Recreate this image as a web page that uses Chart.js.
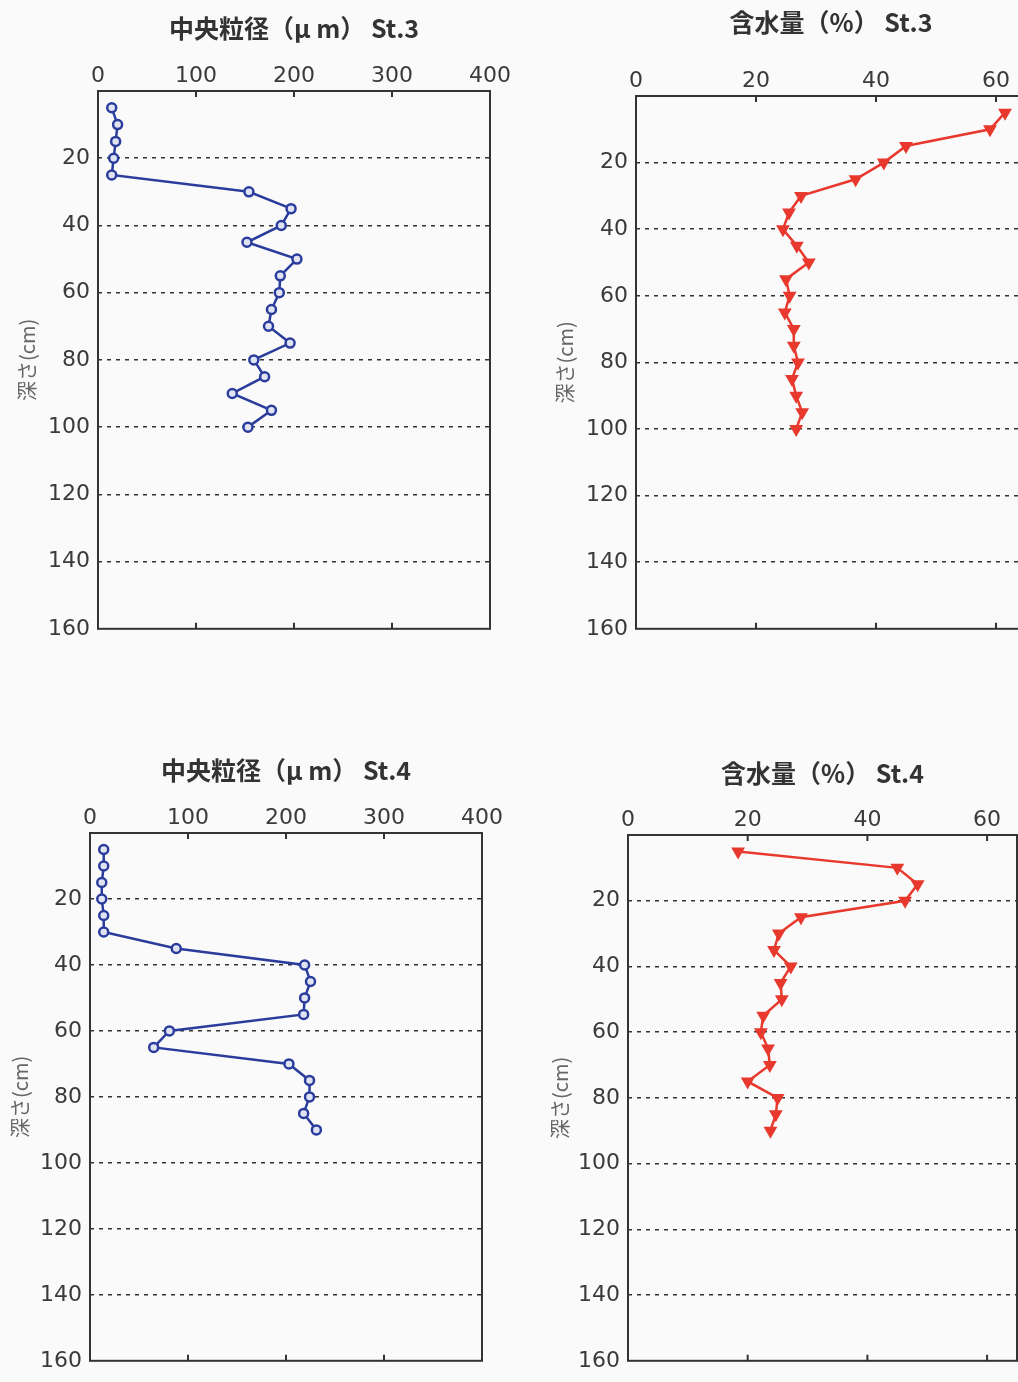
<!DOCTYPE html>
<html>
<head>
<meta charset="utf-8">
<script src="https://cdn.jsdelivr.net/npm/chart.js@4"></script>
<style>
  html, body { margin: 0; padding: 0; background: #fafafa; overflow: hidden; width: 1018px; height: 1382px; }
  .panel { position: absolute; }
</style>
</head>
<body>
<div class="panel" style="left:0;top:0"><canvas id="grain3" width="520" height="650"></canvas></div>
<div class="panel" style="left:540px;top:0"><canvas id="water3" width="520" height="650"></canvas></div>
<div class="panel" style="left:0;top:740px"><canvas id="grain4" width="520" height="642"></canvas></div>
<div class="panel" style="left:540px;top:740px"><canvas id="water4" width="520" height="642"></canvas></div>
<script>
// depth (cm) of each sample
const depthSt3 = [5, 10, 15, 20, 25, 30, 35, 40, 45, 50, 55, 60, 65, 70, 75, 80, 85, 90, 95, 100];
const depthSt4 = [5, 10, 15, 20, 25, 30, 35, 40, 45, 50, 55, 60, 65, 70, 75, 80, 85, 90];

// median grain size (um)
const grainSt3 = [14, 20, 18, 16, 14, 154, 197, 187, 152, 203, 186, 185, 177, 174, 196, 159, 170, 137, 177, 153];
const grainSt4 = [14, 14, 12, 12, 14, 14, 88, 219, 225, 219, 218, 81, 65, 203, 224, 224, 218, 231];

// water content (%)
const waterSt3 = [61.5, 59, 45, 41.3, 36.6, 27.5, 25.5, 24.5, 26.8, 28.8, 25, 25.6, 24.8, 26.3, 26.3, 27, 26, 26.7, 27.7, 26.7];
const waterSt4 = [18.4, 45, 48.4, 46.3, 28.9, 25.2, 24.4, 27.2, 25.5, 25.7, 22.6, 22.2, 23.4, 23.7, 20, 25, 24.7, 23.8];

const grainTicks = [0, 100, 200, 300, 400];
const waterTicks = [0, 20, 40, 60];
const depthTicks = [20, 40, 60, 80, 100, 120, 140, 160];

const tickFont = { family: "'DejaVu Sans', sans-serif", size: 22 };

const framePlugin = {
  id: 'frame',
  afterDraw(chart) {
    const { ctx, chartArea: a, scales: { x } } = chart;
    ctx.save();
    ctx.strokeStyle = '#333';
    ctx.lineWidth = 2;
    ctx.strokeRect(a.left, a.top, a.right - a.left, a.bottom - a.top);
    x.ticks.forEach(t => {
      const px = x.getPixelForValue(t.value);
      if (px <= a.left + 2 || px >= a.right - 2) return;
      ctx.beginPath();
      ctx.moveTo(px, a.top); ctx.lineTo(px, a.top + 6);
      ctx.moveTo(px, a.bottom); ctx.lineTo(px, a.bottom - 6);
      ctx.stroke();
    });
    ctx.restore();
  }
};

function makePanel(id, title, xs, depths, xMax, xTicks, style, box) {
  const titleLine = 25 * 1.2;
  const axisH = 34;
  const padTop = box.titleY - titleLine / 2;
  const padBottom = box.top - axisH - titleLine - padTop;
  const canvas = document.getElementById(id);
  new Chart(canvas, {
    type: 'scatter',
    data: {
      datasets: [{
        data: xs.map((v, i) => ({ x: v, y: depths[i] })),
        showLine: true,
        borderColor: style.color,
        borderWidth: 2.5,
        pointStyle: style.point,
        rotation: style.rotation,
        pointRadius: style.radius,
        pointBorderWidth: style.pointBorder,
        pointBorderColor: style.color,
        pointBackgroundColor: style.fill
      }]
    },
    options: {
      responsive: false,
      animation: false,
      devicePixelRatio: 1,
      layout: { padding: { left: 0, top: 0, right: canvas.width - box.right, bottom: canvas.height - box.bottom } },
      plugins: {
        legend: { display: false },
        tooltip: { enabled: false },
        title: {
          display: true,
          text: title,
          fullSize: false,
          color: '#333',
          font: { family: "'Noto Sans CJK JP', sans-serif", size: 25, weight: 'bold' },
          padding: { top: padTop, bottom: padBottom }
        }
      },
      scales: {
        x: {
          type: 'linear',
          position: 'top',
          min: 0,
          max: xMax,
          afterBuildTicks: s => { s.ticks = xTicks.map(v => ({ value: v })); },
          afterFit: s => { s.height = axisH; },
          grid: { display: false, drawTicks: false },
          border: { display: false },
          ticks: { color: '#3a3a3a', font: tickFont, padding: 2, maxRotation: 0 }
        },
        y: {
          type: 'linear',
          reverse: true,
          min: 0,
          max: 160,
          afterBuildTicks: s => { s.ticks = depthTicks.map(v => ({ value: v })); },
          afterFit: s => { s.width = box.left; },
          grid: {
            drawTicks: false,
            color: ctx => (ctx.tick && ctx.tick.value === 160) ? 'rgba(0,0,0,0)' : '#333',
            lineWidth: 1.5
          },
          border: { display: false, dash: [4, 5] },
          ticks: { color: '#3a3a3a', font: tickFont, padding: 8 },
          title: {
            display: true,
            text: '深さ(cm)',
            color: '#666',
            font: { family: "'Noto Sans CJK JP', sans-serif", size: 20 },
            padding: { top: box.yTitle - 12, bottom: 0 }
          }
        }
      }
    },
    plugins: [framePlugin]
  });
}

const blue = { color: '#2b3d9c', point: 'circle', rotation: 0, radius: 4.5, pointBorder: 2.5, fill: '#dfe3f2' };
const red = { color: '#e8392e', point: 'triangle', rotation: 180, radius: 6, pointBorder: 2, fill: '#e8392e' };

makePanel('grain3', '中央粒径（μ m） St.3', grainSt3, depthSt3, 400, grainTicks, blue,
  { left: 98, top: 91, right: 490, bottom: 632, titleY: 28, yTitle: 27 });
makePanel('water3', '含水量（%） St.3', waterSt3, depthSt3, 65, waterTicks, red,
  { left: 96, top: 96, right: 486, bottom: 635, titleY: 22, yTitle: 25 });
makePanel('grain4', '中央粒径（μ m） St.4', grainSt4, depthSt4, 400, grainTicks, blue,
  { left: 90, top: 93, right: 482, bottom: 628, titleY: 30, yTitle: 20 });
makePanel('water4', '含水量（%） St.4', waterSt4, depthSt4, 65, waterTicks, red,
  { left: 88, top: 95, right: 477, bottom: 632, titleY: 33, yTitle: 20 });
</script>
</body>
</html>
